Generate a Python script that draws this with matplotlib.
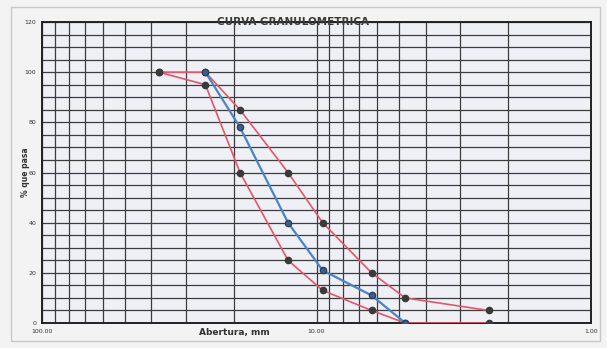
"""Curva granulometrica: banda superior/inferior y material ensayado."""

import matplotlib.pyplot as plt
from matplotlib.patches import Rectangle
from matplotlib.ticker import FixedLocator, NullFormatter

# aberturas de tamiz (mm)
sieves_upper = [37.5, 25.4, 19.0, 12.7, 9.5, 6.3, 4.75, 2.36]
pass_upper = [100, 100, 85, 60, 40, 20, 10, 5]

sieves_lower = [37.5, 25.4, 19.0, 12.7, 9.5, 6.3, 4.75, 2.36]
pass_lower = [100, 95, 60, 25, 13, 5, 0, 0]

sieves_sample = [25.4, 19.0, 12.7, 9.5, 6.3, 4.75]
pass_sample = [100, 78, 40, 21, 11, 0]

x_ticks = [100, 10, 1]
x_ticklabels = ["100.00", "10.00", "1.00"]
y_ticks = [0, 20, 40, 60, 80, 100, 120]

RED = "#e2576a"
BLUE = "#4a84c4"
GRID = "#3d3d3d"

fig = plt.figure(figsize=(6.07, 3.48), dpi=100, facecolor="#f3f3f3")
fig.patches.append(Rectangle((0.018, 0.02), 0.97, 0.96, transform=fig.transFigure,
                             fill=False, edgecolor="#c8c8c8", lw=1.0))

ax = fig.add_axes([0.0692, 0.0718, 0.9045, 0.865])
ax.set_facecolor("#eef0f6")
ax.set_xscale("log")
ax.set_xlim(100, 1)
ax.set_ylim(0, 120)

minor = [v * d for d in (1, 10) for v in range(2, 10)]
ax.xaxis.set_major_locator(FixedLocator(x_ticks))
ax.xaxis.set_minor_locator(FixedLocator(minor))
ax.xaxis.set_minor_formatter(NullFormatter())
ax.set_xticklabels(x_ticklabels)
ax.set_yticks(y_ticks)
ax.yaxis.set_minor_locator(FixedLocator(range(0, 121, 5)))

ax.grid(True, which="both", axis="both", color=GRID, lw=0.9)
ax.set_axisbelow(True)
ax.tick_params(which="both", length=0, labelsize=4.5, colors="#333333", pad=4)
for s in ax.spines.values():
    s.set_color("#222222")
    s.set_linewidth(1.4)

ax.plot(sieves_upper, pass_upper, color=RED, lw=1.2, marker="o", ms=4.5,
        mfc="#3a3a3a", mec="#3a3a3a", zorder=3)
ax.plot(sieves_lower, pass_lower, color=RED, lw=1.2, marker="o", ms=4.5,
        mfc="#3a3a3a", mec="#3a3a3a", zorder=3)
ax.plot(sieves_sample, pass_sample, color=BLUE, lw=1.6, marker="o", ms=4.5,
        mfc="#3f5f8a", mec="#2f3f5a", zorder=4)

# titulo encima del borde superior, como en la hoja original
ax.text(0.457, 1.0, "CURVA GRANULOMETRICA", transform=ax.transAxes,
        fontsize=7.5, fontweight="bold", color="#3a3a3a", ha="center",
        va="center", zorder=5)
ax.set_xlabel("Abertura, mm", fontsize=6.5, fontweight="bold", color="#333333",
              labelpad=-4, x=0.35)
ax.set_ylabel("% que pasa", fontsize=5.5, fontweight="bold", color="#333333")
ax.yaxis.set_label_coords(-0.022, 0.5)

fig.savefig("out.png", dpi=100, facecolor=fig.get_facecolor())
